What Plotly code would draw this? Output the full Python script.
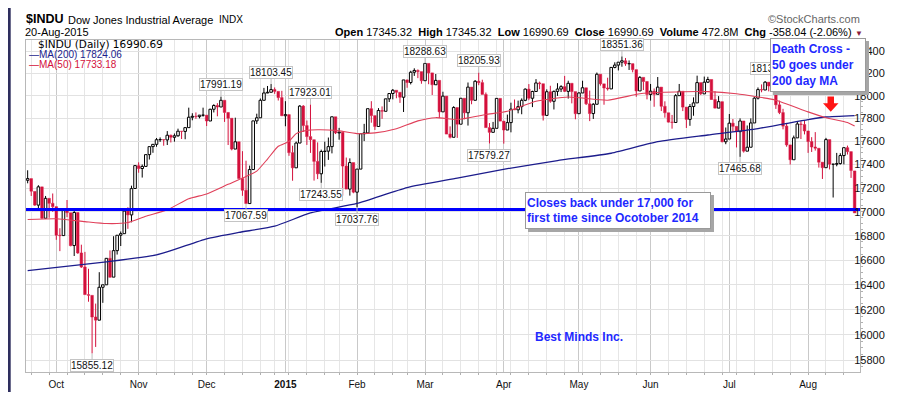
import numpy as np
import pandas as pd
import plotly.graph_objects as go

# ---------------- data ----------------
holidays = ["2014-11-27", "2014-12-25", "2015-01-01", "2015-01-19",
            "2015-02-16", "2015-04-03", "2015-05-25", "2015-07-03"]
dates = [d.strftime("%Y-%m-%d") for d in pd.bdate_range("2014-09-19", "2015-08-20")
         if d.strftime("%Y-%m-%d") not in holidays]

opens = [
    17266, 17280, 17171, 17056, 17210, 16946, 17113, 17071,
    17043, 16805, 16802, 17010, 16992, 16720, 16994, 16659, 16544, 16321, 16315, 16142, 16117, 16380, 16400, 16615, 16462, 16678, 16805, 16818, 17006, 16974, 17196,
    17390, 17366, 17384, 17485, 17554, 17574, 17614, 17615, 17612, 17653, 17635, 17648, 17688, 17686, 17719, 17810, 17818, 17815, 17828,
    17828, 17777, 17880, 17913, 17900, 17959, 17852, 17801, 17533, 17596, 17281, 17181, 17069, 17357, 17778, 17805, 17959, 18024, 18030, 18054, 18038, 17983,
    17823, 17833, 17502, 17372, 17585, 17908, 17737, 17641, 17614, 17427, 17321, 17512, 17515, 17554, 17814, 17673, 17679, 17387, 17191, 17417,
    17165, 17361, 17666, 17673, 17885, 17824, 17729, 17869, 17862, 17972, 18019, 18048, 18030, 17986, 18140, 18117, 18209, 18225, 18214,
    18133, 18288, 18203, 18097, 18136, 17857, 17996, 17663, 17635, 17895, 17749, 17977, 17849, 18076, 17959, 18128, 18116, 18011, 17719, 17678, 17713, 17976,
    17776, 17698, 17763, 17881, 17875, 17903, 17959, 18058, 17977, 18037, 18113, 18106, 17826, 18035, 17950, 18038, 18059, 18080, 18038, 18110, 18036,
    17841, 18024, 18070, 17928, 17842, 17924, 18191, 18105, 18068, 18060, 18252, 18273, 18299, 18312, 18285, 18286, 18232, 18042, 18163, 18126,
    18011, 18040, 18012, 18076, 17906, 17849, 17767, 17764, 18000, 18039, 17899, 17791, 17904, 17936, 18116, 18016, 18120, 18144, 17966, 17890, 17947, 17596,
    17620, 17758, 17730, 17684, 17777, 17515, 17549, 17760, 17978, 18054, 18050, 18120, 18086, 18100, 17919, 17851, 17732, 17569, 17441, 17630, 17751, 17746,
    17690, 17598, 17551, 17540, 17420, 17373, 17615, 17403, 17403, 17408, 17477, 17545, 17511, 17345.32,
]
highs = [
    17351, 17280, 17171, 17224, 17210, 17133, 17113, 17154,
    17043, 16863, 17028, 17099, 16992, 17012, 16994, 16727, 16668, 16530, 16315, 16249, 16502, 16400, 16616, 16680, 16797, 16805, 16836, 17011, 17038, 17220, 17395,
    17419, 17400, 17485, 17555, 17576, 17629, 17634, 17615, 17689, 17658, 17668, 17710, 17688, 17720, 17894, 17845, 17852, 17830, 17894,
    17828, 17884, 17924, 17934, 17991.19, 17959, 17852, 17801, 17806, 17596, 17515, 17433, 17391, 17778, 17841, 17975, 18069, 18086, 18103.45, 18073, 18038, 18043,
    17951, 17833, 17562, 17598, 17916, 17916, 17781, 17923.01, 17614, 17591, 17528, 17597, 17633, 17814, 17815, 17717, 17679, 17460, 17453, 17417,
    17362, 17667, 17752, 17885, 17951, 17824, 17890, 17905, 17973, 18020, 18059, 18049, 18030, 18140, 18143, 18222, 18244, 18234, 18214,
    18288.63, 18288, 18203, 18193, 18136, 18035, 17996, 17730, 17907, 17895, 17977, 17977, 18117, 18076, 18139, 18205.93, 18142, 18028, 17759, 17769, 17977, 17976,
    17776, 17833, 17938, 17966, 17956, 17976, 18064, 18103, 18044, 18147, 18125, 18106, 18056, 18088, 18046, 18111, 18093, 18176, 18133, 18110, 18036,
    18030, 18133, 18070, 18045, 17934, 18206, 18191, 18105, 18160, 18253, 18298, 18299, 18351.36, 18337, 18315, 18286, 18232, 18174, 18163, 18126,
    18104, 18064, 18166, 18076, 17950, 17849, 17830, 18014, 18104, 18039, 17899, 17926, 17985, 18178, 18116, 18170, 18168, 18144, 18040, 17996, 17947, 17720,
    17838, 17794, 17730, 17800, 17777, 17738, 17800, 17987, 18073, 18100, 18130, 18121, 18137.12, 18100, 17956, 17884, 17760, 17569, 17650, 17773, 17775, 17782,
    17690, 17636, 17680, 17540, 17420, 17630, 17615, 17403, 17500, 17497, 17547, 17563, 17511, 17345.32,
]
lows = [
    17240, 17133, 17050, 17020, 16940, 16946, 16950, 17000,
    16767, 16674, 16802, 16955, 16714, 16634, 16652, 16537, 16321, 16264, 15855.12, 15906, 16117, 16255, 16400, 16459, 16462, 16646, 16716, 16818, 16858, 16912, 17196,
    17330, 17289, 17384, 17443, 17501, 17553, 17595, 17562, 17568, 17590, 17597, 17640, 17620, 17618, 17719, 17783, 17796, 17800, 17815,
    17733, 17777, 17852, 17818, 17900, 17769, 17568, 17522, 17533, 17279, 17134, 17067.59, 17069, 17357, 17751, 17805, 17959, 18022, 18030, 18016, 17957, 17820,
    17731, 17475, 17262, 17372, 17585, 17681, 17569, 17500, 17263, 17276, 17243.55, 17383, 17440, 17496, 17663, 17614, 17136, 17191, 17136, 17156,
    17037.76, 17361, 17602, 17673, 17762, 17699, 17729, 17796, 17862, 17944, 17967, 17977, 17936, 17856, 18070, 18100, 18176, 18156, 18106,
    18133, 18102, 18006, 18097, 17802, 17857, 17662, 17625, 17635, 17630, 17749, 17792, 17737, 17924, 17959, 18093, 18011, 17718, 17579.27, 17678, 17713, 17776,
    17580, 17698, 17678, 17873, 17844, 17836, 17951, 17960, 17899, 18037, 18058, 17781, 17826, 17937, 17878, 17998, 18032, 18033, 17974, 17932, 17792,
    17841, 18024, 17917, 17776, 17795, 17924, 18089, 17920, 18045, 18060, 18244, 18225, 18258, 18266, 18229, 18208, 17990, 18042, 18050, 17967,
    17956, 17902, 18012, 17864, 17806, 17764, 17710, 17764, 18000, 17864, 17716, 17735, 17823, 17936, 18007, 18016, 18112, 17964, 17888, 17890, 17592, 17575,
    17620, 17684, 17547, 17465.68, 17503, 17515, 17549, 17760, 17966, 18030, 18050, 18038, 18076, 17883, 17837, 17704, 17553, 17400, 17441, 17630, 17620, 17660,
    17500, 17508, 17520, 17374, 17277, 17373, 17358, 17120, 17385, 17400, 17401, 17486, 17286, 16990.69,
]
closes = [
    17280, 17173, 17056, 17210, 16946, 17113, 17071, 17043,
    16805, 16801, 17010, 16992, 16719, 16994, 16659, 16544, 16321, 16315, 16142, 16117, 16380, 16400, 16615, 16461, 16678, 16805, 16818, 17006, 16974, 17195, 17391,
    17366, 17384, 17485, 17554, 17574, 17614, 17615, 17612, 17653, 17635, 17648, 17688, 17686, 17719, 17810, 17818, 17815, 17828, 17828,
    17777, 17880, 17913, 17900, 17959, 17852, 17801, 17533, 17596, 17281, 17181, 17069, 17357, 17778, 17805, 17959, 18024, 18030, 18054, 18038, 17983, 17823,
    17833, 17502, 17372, 17585, 17908, 17737, 17641, 17614, 17427, 17321, 17512, 17515, 17554, 17814, 17673, 17679, 17387, 17191, 17417, 17165,
    17361, 17666, 17673, 17885, 17824, 17729, 17869, 17862, 17972, 18019, 18048, 18030, 17986, 18140, 18117, 18209, 18225, 18214, 18133,
    18288, 18203, 18097, 18136, 17857, 17996, 17663, 17635, 17895, 17749, 17977, 17849, 18076, 17959, 18128, 18116, 18011, 17719, 17678, 17713, 17976, 17776,
    17698, 17763, 17881, 17875, 17903, 17959, 18058, 17977, 18037, 18113, 18106, 17826, 18035, 17950, 18038, 18059, 18080, 18038, 18110, 18036, 17841,
    18024, 18070, 17928, 17842, 17924, 18191, 18105, 18068, 18060, 18252, 18273, 18299, 18312, 18285, 18286, 18232, 18042, 18163, 18126, 18011,
    18040, 18012, 18076, 17906, 17849, 17767, 17764, 18000, 18039, 17899, 17791, 17904, 17936, 18116, 18016, 18120, 18144, 17966, 17890, 17947, 17596, 17620,
    17758, 17730, 17684, 17777, 17515, 17549, 17760, 17978, 18054, 18050, 18120, 18086, 18100, 17919, 17851, 17732, 17569, 17441, 17630, 17751, 17746, 17690,
    17598, 17551, 17540, 17420, 17373, 17615, 17403, 17403, 17408, 17477, 17545, 17511, 17349, 16990.69,
]

ma200_dates = ["2014-09-19", "2014-10-21", "2014-11-10", "2014-12-01", "2014-12-12", "2014-12-29",
               "2015-01-13", "2015-02-02", "2015-02-23", "2015-03-13", "2015-04-02", "2015-04-23",
               "2015-05-14", "2015-06-03", "2015-06-23", "2015-07-14", "2015-08-03", "2015-08-10", "2015-08-20"]
ma200_vals = [16515, 16586, 16643, 16775, 16828, 16880, 16990, 17070, 17204, 17284, 17365, 17434,
              17497, 17597, 17655, 17711, 17789, 17812, 17824.06]

ma50_dates = ["2014-09-19", "2014-10-01", "2014-10-13", "2014-10-21", "2014-10-29", "2014-11-05",
              "2014-11-13", "2014-11-21", "2014-12-01", "2014-12-09", "2014-12-16", "2014-12-19",
              "2014-12-24", "2014-12-30", "2015-01-05", "2015-01-07", "2015-01-12", "2015-01-15",
              "2015-01-23", "2015-02-02", "2015-02-09", "2015-02-18", "2015-02-26", "2015-03-05",
              "2015-03-13", "2015-03-25", "2015-04-02", "2015-04-15", "2015-04-28", "2015-05-13",
              "2015-05-27", "2015-06-05", "2015-06-23", "2015-07-06", "2015-07-14", "2015-07-21",
              "2015-08-03", "2015-08-10", "2015-08-18", "2015-08-20"]
ma50_vals = [16936, 16942, 16918, 16902, 16910, 16962, 17016, 17110, 17150, 17231, 17298, 17344,
             17447, 17557, 17599, 17667, 17695, 17700, 17695, 17667, 17673, 17709, 17778, 17806,
             17790, 17834, 17862, 17951, 17988, 17960, 18017, 18030, 18036, 18017, 17988, 17960,
             17857, 17806, 17764, 17733.18]

# labelled highs / lows (dates)
high_labels = ["2014-12-05", "2014-12-26", "2015-01-13", "2015-03-02", "2015-03-23", "2015-05-19", "2015-07-20"]
low_labels = ["2014-10-15", "2014-12-16", "2015-01-16", "2015-02-02", "2015-03-26", "2015-07-07"]

support_level = 17020
ytick_vals = [15800, 16000, 16200, 16400, 16600, 16800, 17000, 17200, 17400, 17600, 17800, 18000, 18200, 18400]

# ---------------- build ----------------
pos = {d: i for i, d in enumerate(dates)}
xs = np.arange(len(dates))
o = np.array(opens, float); h = np.array(highs, float)
l = np.array(lows, float); c = np.array(closes, float)
up = c >= o
top = np.maximum(o, c); bot = np.minimum(o, c)

RED = "#d4103c"
fig = go.Figure()

# wicks
for mask, col in [(up, "#000000"), (~up, RED)]:
    wx, wy = [], []
    for i in np.where(mask)[0]:
        wx += [xs[i], xs[i], None, xs[i], xs[i], None]
        wy += [h[i], top[i], None, bot[i], l[i], None]
    fig.add_trace(go.Scatter(x=wx, y=wy, mode="lines", line=dict(color=col, width=1),
                             hoverinfo="skip", showlegend=False))

# bodies
fig.add_trace(go.Bar(x=xs[up], y=(c - o)[up], base=o[up], width=0.72,
                     marker=dict(color="#ffffff", line=dict(color="#000000", width=1)),
                     hoverinfo="skip", showlegend=False))
fig.add_trace(go.Bar(x=xs[~up], y=(o - c)[~up], base=c[~up], width=0.72,
                     marker=dict(color=RED, line=dict(color=RED, width=0.5)),
                     hoverinfo="skip", showlegend=False))

# moving averages
fig.add_trace(go.Scatter(x=[pos[d] for d in ma200_dates], y=ma200_vals, mode="lines",
                         line=dict(color="#1c1c8c", width=1.3, shape="spline", smoothing=0.5),
                         hoverinfo="skip", showlegend=False))
fig.add_trace(go.Scatter(x=[pos[d] for d in ma50_dates], y=ma50_vals, mode="lines",
                         line=dict(color="#e0405a", width=1.1, shape="spline", smoothing=0.5),
                         hoverinfo="skip", showlegend=False))

XMIN, XMAX = -0.46, 232.5
fig.add_trace(go.Scatter(x=[XMIN, XMAX], y=[support_level, support_level], mode="lines",
                         line=dict(color="#0000ff", width=3), hoverinfo="skip", showlegend=False))

# axes ticks derived from dates
month_idx, month_txt = [], []
for i, d in enumerate(dates):
    if i > 0 and d[5:7] != dates[i - 1][5:7]:
        month_idx.append(i)
        ts = pd.Timestamp(d)
        month_txt.append("<b>2015</b>" if ts.month == 1 else ts.strftime("%b"))
week_idx = [i for i, d in enumerate(dates)
            if i > 0 and pd.Timestamp(d).weekday() < pd.Timestamp(dates[i - 1]).weekday()]

fig.update_layout(
    width=900, height=394, margin=dict(l=18, r=48, t=32, b=15),
    paper_bgcolor="white", plot_bgcolor="white", showlegend=False, barmode="overlay",
    hovermode=False,
    xaxis=dict(range=[XMIN, XMAX], tickmode="array", tickvals=month_idx, ticktext=month_txt,
               showgrid=True, gridcolor="#c9c9c9", gridwidth=1, zeroline=False,
               showline=True, linecolor="#b8b8b8", mirror=True, ticks="",
               ticklabelstandoff=3,
               tickfont=dict(family="Arial", size=10, color="#111111"),
               minor=dict(tickmode="array", tickvals=week_idx, showgrid=True,
                          gridcolor="#e6e6e6", ticks="outside", ticklen=2, tickcolor="#b0b0b0")),
    yaxis=dict(type="log", range=[np.log10(15711), np.log10(18500)], side="right",
               tickmode="array", tickvals=ytick_vals, ticktext=[str(v) for v in ytick_vals],
               showgrid=True, gridcolor="#e2e2e2", zeroline=False,
               showline=True, linecolor="#b8b8b8", mirror=True, ticks="",
               ticklabelstandoff=-9,
               tickfont=dict(family="Arial", size=11, color="#111111"),
               minor=dict(tickmode="array", tickvals=list(range(15750, 18500, 50)),
                          ticks="outside", ticklen=2, tickcolor="#b0b0b0", showgrid=False)),
)

W, H = 834.0, 347.0
def PX(x): return (x - 18) / W
def PY(y): return (379 - y) / H

def txt(x, y, s, size, color="#000000", family="Arial", xanchor="left"):
    fig.add_annotation(xref="paper", yref="paper", x=PX(x), y=PY(y), text=s, showarrow=False,
                       xanchor=xanchor, yanchor="middle", borderpad=0,
                       font=dict(family=family, size=size, color=color))

# header
txt(17, 10, "<b>$INDU</b>", 12.5)
txt(59, 11, "Dow Jones Industrial Average", 11)
txt(210, 11, "INDX", 10)
txt(16, 24, "20-Aug-2015", 11)
sp = "\u00a0\u00a0"
txt(845, 24, "<b>Open</b> 17345.32" + sp + "<b>High</b> 17345.32" + sp + "<b>Low</b> 16990.69" + sp +
    "<b>Close</b> 16990.69" + sp + "<b>Volume</b> 472.8M" + sp + "<b>Chg</b> -358.04 (-2.06%)",
    11, xanchor="right")
txt(846, 25, "\u25bc", 8, color="#8b1c3c")
txt(853, 10, "\u00a9StockCharts.com", 11, color="#666666", xanchor="right")

# in-plot legend
txt(29, 36, "$INDU (Daily) 16990.69", 10.5, family="DejaVu Sans")
txt(20, 47, "\u2014MA(200) 17824.06", 10, color="#1c1c8c")
txt(20, 58, "\u2014MA(50) 17733.18", 10, color=RED)

# high / low value labels
for d in high_labels:
    i = pos[d]
    fig.add_annotation(x=xs[i], y=np.log10(h[i]), text=f"{h[i]:.2f}", showarrow=True, arrowhead=0,
                       arrowwidth=1, arrowcolor="#bdbdbd", ax=0, ay=-12, bgcolor="white",
                       bordercolor="#c4c4c4", borderwidth=1, borderpad=0,
                       font=dict(family="Arial", size=10, color="#111111"))
for d in low_labels:
    i = pos[d]
    fig.add_annotation(x=xs[i], y=np.log10(l[i]), text=f"{l[i]:.2f}", showarrow=True, arrowhead=0,
                       arrowwidth=1, arrowcolor="#bdbdbd", ax=0, ay=12, bgcolor="white",
                       bordercolor="#c4c4c4", borderwidth=1, borderpad=0,
                       font=dict(family="Arial", size=10, color="#111111"))

BLUE = "#1e28ff"
def box(x0, y0, x1, y1, text):
    for dx, bg, bc in [(3, "#a6a6a6", "#a6a6a6"), (0, "white", "#9a9a9a")]:
        fig.add_annotation(xref="paper", yref="paper", x=PX((x0 + x1) / 2 + dx), y=PY((y0 + y1) / 2 + dx),
                           text=text if dx == 0 else " ", showarrow=False, xanchor="center", yanchor="middle",
                           width=x1 - x0 - 4, height=y1 - y0 - 4, align="left", valign="middle",
                           bgcolor=bg, bordercolor=bc, borderwidth=1, borderpad=1,
                           font=dict(family="Arial", size=12, color=BLUE))

box(762, 31, 858, 85, "<b>Death Cross -<br>50 goes under<br>200 day MA</b>")
box(517, 192, 703, 229, "<b>Closes back under 17,000 for<br>first time since Ocotober 2014</b>")
txt(526, 342, "<b>Best Minds Inc.</b>", 12, color=BLUE)

# red arrow
pts = [(819.5, 91), (826, 91), (826, 98), (830.5, 98), (822.75, 107), (815, 98), (819.5, 98)]
path = "M " + " L ".join(f"{PX(a):.5f},{PY(b):.5f}" for a, b in pts) + " Z"
fig.add_shape(type="path", xref="paper", yref="paper", path=path, fillcolor="#ff1414",
              line=dict(width=0), layer="above")
# left page border
fig.add_shape(type="rect", xref="paper", yref="paper", x0=PX(0), x1=PX(2.7), y0=PY(400), y1=PY(-5),
              fillcolor="#2e2e5e", line=dict(width=0), layer="above")

fig.write_html("out.html")
